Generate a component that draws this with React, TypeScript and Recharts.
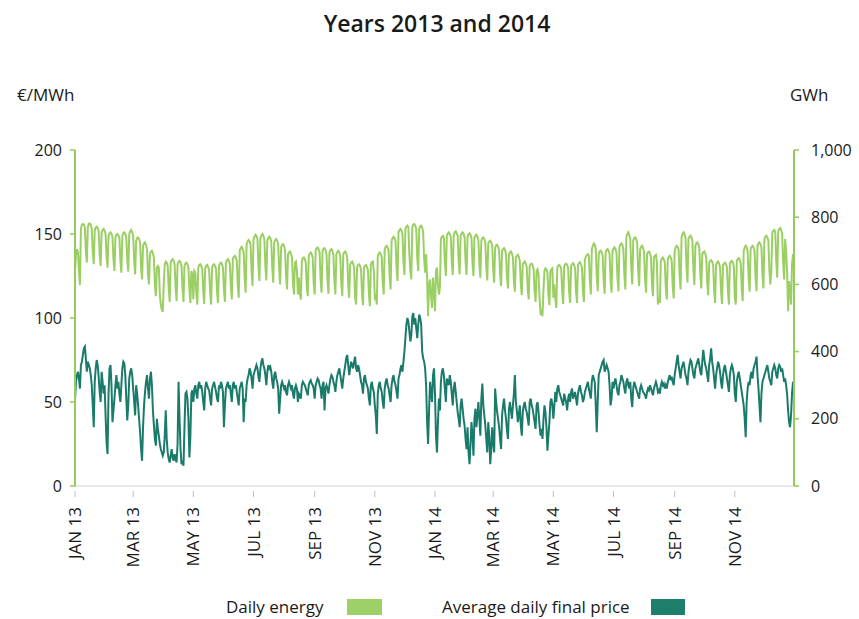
import React from "react";
import { LineChart, Line, XAxis, YAxis } from "recharts";

// Daily energy (GWh), 2013: Jan 1-6, then Mon..Sun weeks, then Dec 30-31
const energy2013 = [
  640, 690, 705, 695, 640, 598,
  765, 778, 780, 778, 770, 700, 665,
  770, 780, 782, 778, 765, 695, 660,
  760, 770, 772, 768, 758, 690, 655,
  755, 762, 765, 760, 750, 685, 650,
  745, 752, 755, 750, 742, 675, 640,
  740, 748, 750, 746, 738, 670, 635,
  745, 752, 755, 750, 740, 672, 638,
  750, 758, 762, 755, 745, 670, 630,
  730, 738, 740, 735, 725, 650, 615,
  715, 722, 725, 718, 705, 630, 600,
  690, 698, 700, 692, 680, 600, 565,
  650, 655, 650, 570, 540, 525, 518,
  600, 660, 668, 665, 655, 590, 548,
  665, 672, 675, 670, 660, 590, 550,
  660, 668, 670, 665, 655, 588, 548,
  655, 662, 665, 660, 650, 585, 545,
  640, 630, 555, 640, 635, 575, 540,
  650, 658, 660, 655, 645, 580, 542,
  648, 655, 658, 652, 642, 578, 540,
  650, 658, 660, 655, 645, 580, 545,
  655, 662, 665, 660, 650, 585, 548,
  665, 672, 675, 670, 660, 595, 555,
  675, 682, 685, 680, 670, 600, 560,
  700, 708, 712, 705, 695, 620, 575,
  720, 728, 732, 728, 718, 640, 595,
  735, 742, 748, 745, 735, 655, 610,
  738, 745, 750, 745, 735, 655, 612,
  730, 738, 742, 738, 728, 650, 605,
  725, 732, 735, 730, 720, 645, 600,
  710, 718, 720, 715, 700, 625, 585,
  690, 695, 698, 692, 680, 605, 570,
  665, 668, 640, 570, 620, 570, 555,
  670, 678, 680, 675, 665, 595, 565,
  685, 692, 695, 690, 680, 605, 570,
  700, 708, 710, 705, 695, 615, 575,
  700, 706, 708, 702, 690, 612, 572,
  695, 702, 705, 700, 688, 610, 570,
  690, 696, 700, 695, 682, 605, 565,
  690, 695, 698, 692, 680, 600, 560,
  660, 665, 668, 662, 650, 560, 540,
  652, 658, 660, 655, 645, 575, 538,
  650, 656, 658, 652, 642, 572, 535,
  660, 666, 668, 640, 560, 565, 540,
  685, 692, 695, 690, 680, 605, 570,
  705, 712, 715, 710, 700, 625, 585,
  730, 738, 742, 738, 728, 650, 610,
  755, 762, 765, 760, 750, 670, 628,
  765, 772, 775, 770, 690, 640, 615,
  770, 778, 780, 775, 765, 680, 640,
  765, 772, 775, 770, 755, 675, 635,
  690, 620, 505, 600, 615, 565, 530,
  620, 580,
];

// Daily energy (GWh), 2014: Jan 1-5, then Mon..Sun weeks, then Dec 29-31
const energy2014 = [
  520, 640, 650, 600, 570,
  590, 735, 742, 745, 738, 665, 625,
  745, 752, 755, 750, 742, 668, 628,
  748, 755, 758, 752, 745, 670, 630,
  745, 752, 755, 750, 740, 668, 628,
  742, 750, 752, 748, 738, 665, 625,
  738, 745, 748, 742, 732, 660, 620,
  730, 738, 740, 735, 725, 652, 612,
  722, 728, 730, 725, 715, 645, 605,
  710, 716, 718, 712, 702, 632, 595,
  700, 705, 708, 702, 690, 622, 588,
  690, 695, 698, 692, 680, 612, 578,
  680, 685, 688, 682, 670, 602, 568,
  660, 665, 668, 662, 652, 585, 555,
  655, 660, 662, 658, 645, 578, 548,
  640, 645, 630, 560, 515, 520, 505,
  585, 640, 648, 645, 635, 568, 538,
  640, 645, 648, 560, 600, 555, 530,
  650, 656, 658, 654, 645, 575, 542,
  655, 660, 662, 658, 648, 578, 545,
  655, 660, 663, 658, 648, 578, 545,
  658, 664, 666, 660, 650, 580, 548,
  675, 682, 688, 690, 685, 610, 570,
  705, 715, 722, 718, 705, 625, 580,
  690, 698, 700, 695, 685, 612, 572,
  695, 702, 705, 700, 690, 615, 575,
  700, 706, 710, 705, 695, 620, 580,
  710, 718, 722, 718, 705, 628, 585,
  740, 750, 755, 748, 735, 650, 600,
  730, 738, 740, 735, 722, 642, 595,
  705, 712, 715, 708, 695, 615, 575,
  690, 696, 698, 692, 680, 600, 565,
  680, 685, 688, 665, 540, 560, 545,
  670, 676, 680, 675, 665, 590, 555,
  675, 682, 685, 680, 670, 595, 558,
  700, 710, 715, 712, 705, 628, 585,
  740, 750, 755, 750, 738, 655, 605,
  735, 742, 745, 740, 728, 645, 598,
  715, 722, 725, 720, 708, 630, 588,
  690, 695, 698, 692, 680, 605, 568,
  665, 670, 672, 668, 658, 585, 545,
  660, 665, 668, 662, 652, 580, 542,
  658, 662, 665, 660, 650, 578, 540,
  662, 668, 670, 665, 652, 560, 540,
  670, 676, 678, 672, 662, 588, 550,
  700, 710, 715, 710, 698, 620, 578,
  705, 712, 715, 710, 700, 622, 580,
  715, 722, 725, 720, 710, 632, 588,
  735, 742, 745, 740, 730, 645, 600,
  640, 755, 760, 762, 755, 670, 620,
  758, 765, 768, 762, 750, 665, 615,
  735, 700, 640, 520, 610, 580, 540,
  660, 690, 660,
];

// Average daily final price (€/MWh), 2013, one line per month
const price2013 = [
  51, 62, 66, 68, 64, 58, 72, 74, 78, 82, 83, 76, 68, 74, 72, 70, 66, 60, 48, 35, 62, 70, 75, 72, 65, 56, 50, 68, 62, 55, 60,
  42, 26, 19, 55, 70, 72, 60, 38, 45, 52, 60, 66, 58, 62, 55, 50, 60, 70, 74, 73, 66, 52, 39, 48, 64, 68, 70, 66,
  58, 50, 42, 60, 55, 48, 40, 32, 22, 15, 35, 48, 56, 62, 66, 58, 52, 64, 68, 60, 45, 36, 28, 24, 40, 34, 30, 25, 22, 20, 18,
  20, 30, 45, 28, 20, 16, 14, 18, 22, 17, 15, 19, 16, 14, 25, 62, 40, 22, 13, 15, 12, 35, 55, 56, 52, 40, 17, 30, 55, 57,
  50, 58, 60, 55, 52, 60, 62, 58, 60, 56, 50, 45, 58, 62, 60, 58, 57, 52, 48, 58, 60, 62, 59, 56, 52, 50, 60, 58, 62, 60, 56,
  35, 48, 58, 60, 62, 58, 60, 55, 50, 60, 62, 58, 60, 56, 52, 48, 58, 60, 62, 58, 38, 52, 50, 60, 64, 66, 70, 68, 64, 58,
  66, 68, 70, 72, 70, 65, 62, 70, 74, 76, 72, 70, 66, 60, 68, 72, 70, 71, 68, 62, 58, 66, 68, 64, 62, 58, 43, 52, 60, 62, 60,
  58, 60, 56, 54, 60, 62, 60, 58, 60, 55, 52, 58, 60, 58, 50, 55, 54, 52, 60, 62, 61, 60, 58, 56, 54, 60, 62, 63, 61, 60, 58,
  52, 60, 62, 64, 63, 60, 58, 52, 60, 62, 45, 58, 60, 58, 55, 60, 64, 66, 65, 62, 60, 56, 62, 66, 68, 70, 66, 62, 58, 64,
  68, 72, 76, 78, 72, 66, 70, 74, 72, 70, 74, 77, 70, 68, 72, 70, 66, 62, 60, 55, 64, 66, 62, 60, 58, 52, 48, 60, 62, 58, 56,
  48, 42, 31, 55, 60, 62, 58, 56, 50, 46, 58, 62, 64, 60, 58, 54, 50, 60, 64, 66, 62, 60, 56, 52, 64, 66, 70, 72, 68, 74,
  80, 88, 96, 100, 98, 92, 86, 90, 101, 103, 96, 100, 94, 88, 96, 102, 100, 96, 80, 76, 74, 70, 60, 38, 25, 45, 62, 55, 50, 66, 70,
];

// Average daily final price (€/MWh), 2014, one line per month
const price2014 = [
  55, 30, 20, 38, 52, 45, 62, 68, 70, 66, 58, 50, 64, 62, 60, 66, 62, 55, 48, 58, 62, 56, 50, 44, 40, 35, 48, 52, 46, 40, 36,
  28, 22, 35, 20, 13, 25, 38, 30, 18, 40, 46, 35, 42, 50, 40, 30, 52, 61, 48, 42, 36, 28, 20, 38, 30, 13, 22, 35,
  25, 20, 58, 50, 44, 40, 35, 28, 22, 42, 48, 52, 45, 40, 33, 28, 46, 50, 45, 40, 48, 55, 66, 50, 45, 38, 42, 48, 36, 30, 44,
  48, 50, 46, 44, 40, 36, 50, 52, 48, 46, 42, 38, 34, 48, 50, 44, 36, 30, 34, 28, 40, 48, 44, 35, 21, 30, 38, 50, 52, 48,
  40, 48, 56, 50, 58, 60, 56, 54, 52, 50, 48, 55, 52, 50, 45, 52, 55, 50, 56, 58, 52, 54, 56, 52, 48, 55, 58, 60, 56, 54, 50,
  52, 56, 58, 60, 62, 58, 55, 52, 62, 66, 64, 62, 48, 32, 50, 66, 68, 70, 72, 74, 75, 68, 70, 72, 70, 68, 60, 48, 52, 62,
  58, 62, 64, 60, 56, 54, 60, 62, 66, 64, 62, 58, 55, 62, 64, 60, 58, 62, 52, 47, 58, 62, 60, 58, 56, 54, 52, 58, 60, 58, 56,
  55, 54, 52, 56, 58, 57, 60, 58, 56, 54, 58, 60, 62, 60, 56, 57, 55, 60, 62, 60, 61, 58, 60, 58, 62, 64, 66, 63, 65, 62, 60,
  66, 70, 74, 78, 72, 68, 64, 70, 72, 74, 70, 66, 64, 60, 68, 72, 75, 74, 70, 66, 64, 70, 72, 74, 76, 72, 68, 66, 74, 81,
  76, 72, 70, 66, 62, 72, 76, 82, 74, 70, 64, 58, 66, 70, 74, 72, 68, 62, 58, 66, 70, 72, 68, 64, 60, 56, 66, 70, 72, 70, 66,
  55, 50, 62, 66, 68, 64, 60, 56, 52, 48, 40, 29, 50, 58, 62, 60, 66, 68, 64, 70, 72, 74, 77, 66, 58, 48, 38, 55, 62, 64,
  66, 68, 70, 72, 68, 64, 62, 60, 68, 70, 72, 70, 66, 64, 70, 72, 71, 68, 70, 66, 62, 64, 60, 55, 45, 38, 35, 42, 55, 62, 60,
];

// X ticks: day index (from Jan 1 2013) of each labelled month start
const tickDays = [0, 59, 120, 181, 243, 304, 365, 424, 485, 546, 608, 669];
const tickLabels = [
  "JAN 13", "MAR 13", "MAY 13", "JUL 13", "SEP 13", "NOV 13",
  "JAN 14", "MAR 14", "MAY 14", "JUL 14", "SEP 14", "NOV 14",
];
const priceTicks = [0, 50, 100, 150, 200];
const energyTicks = [0, 200, 400, 600, 800, 1000];

const energyAll = [...energy2013, ...energy2014];
const priceAll = [...price2013, ...price2014];
const data = energyAll.map((e, i) => ({ d: i, energy: e, price: priceAll[i] }));

const FONT = "'Open Sans', 'Noto Sans', sans-serif";
const LIGHT = "#9BCF63";
const DARK = "#1B7B6B";
const AXIS_GREEN = "#95CB5C";

const XTick = (props: any) => {
  const { x, y, payload } = props;
  const idx = tickDays.indexOf(payload.value);
  const label = idx >= 0 ? tickLabels[idx] : "";
  return (
    <g>
      <line x1={x} y1={y + 5} x2={x} y2={y + 11} stroke="#bdbdbd" strokeWidth={1} />
      <text
        x={x - 21}
        y={y + 6}
        transform={`rotate(-90 ${x} ${y})`}
        textAnchor="end"
        fontSize={17}
        fontFamily={FONT}
        fill="#1a1a1a"
      >
        {label}
      </text>
    </g>
  );
};

export default function App() {
  return (
    <div
      style={{
        position: "absolute",
        left: 0,
        top: 0,
        width: 859,
        height: 619,
        overflow: "hidden",
        background: "#fff",
        fontFamily: FONT,
        color: "#1a1a1a",
      }}
    >
      <div
        style={{
          position: "absolute",
          left: 0,
          width: 874,
          top: 10,
          textAlign: "center",
          fontSize: 23,
          fontWeight: 600,
          lineHeight: "26px",
        }}
      >
        Years 2013 and 2014
      </div>
      <div style={{ position: "absolute", left: 17, top: 85, fontSize: 17, lineHeight: "20px" }}>€/MWh</div>
      <div style={{ position: "absolute", left: 790, top: 85, fontSize: 17, lineHeight: "20px" }}>GWh</div>

      <div style={{ position: "absolute", left: 0, top: 0 }}>
        <LineChart width={859} height={619} data={data} margin={{ top: 150, right: 0, bottom: 0, left: 0 }}>
          <XAxis
            type="number"
            dataKey="d"
            domain={[0, 729]}
            ticks={tickDays}
            interval={0}
            height={133}
            tickSize={0}
            tickMargin={0}
            tickLine={false}
            axisLine={{ stroke: "#d2d2d2", strokeWidth: 1 }}
            tick={<XTick />}
          />
          <YAxis
            yAxisId="left"
            orientation="left"
            domain={[0, 200]}
            ticks={priceTicks}
            interval={0}
            width={75}
            tickSize={5}
            tickMargin={8}
            axisLine={{ stroke: AXIS_GREEN, strokeWidth: 2 }}
            tickLine={{ stroke: AXIS_GREEN, strokeWidth: 1.5 }}
            tick={{ fill: "#1a1a1a", fontSize: 16, fontFamily: FONT }}
          />
          <YAxis
            yAxisId="right"
            orientation="right"
            domain={[0, 1000]}
            ticks={energyTicks}
            interval={0}
            width={65}
            tickSize={5}
            tickMargin={12}
            axisLine={{ stroke: AXIS_GREEN, strokeWidth: 2 }}
            tickLine={{ stroke: AXIS_GREEN, strokeWidth: 1.5 }}
            tickFormatter={(v: number) => v.toLocaleString("en-US")}
            tick={{ fill: "#1a1a1a", fontSize: 16, fontFamily: FONT }}
          />
          <Line
            yAxisId="right"
            type="linear"
            dataKey="energy"
            stroke={LIGHT}
            strokeWidth={2}
            dot={false}
            activeDot={false}
            isAnimationActive={false}
          />
          <Line
            yAxisId="left"
            type="linear"
            dataKey="price"
            stroke={DARK}
            strokeWidth={2}
            dot={false}
            activeDot={false}
            isAnimationActive={false}
          />
        </LineChart>
      </div>

      <div style={{ position: "absolute", left: 226, top: 596, fontSize: 17, lineHeight: "22px" }}>Daily energy</div>
      <div style={{ position: "absolute", left: 347, top: 599, width: 35, height: 16, background: "#9DD066" }} />
      <div style={{ position: "absolute", left: 442, top: 596, fontSize: 17, lineHeight: "22px" }}>
        Average daily final price
      </div>
      <div style={{ position: "absolute", left: 651, top: 599, width: 34, height: 16, background: "#1E7F6D" }} />
    </div>
  );
}
